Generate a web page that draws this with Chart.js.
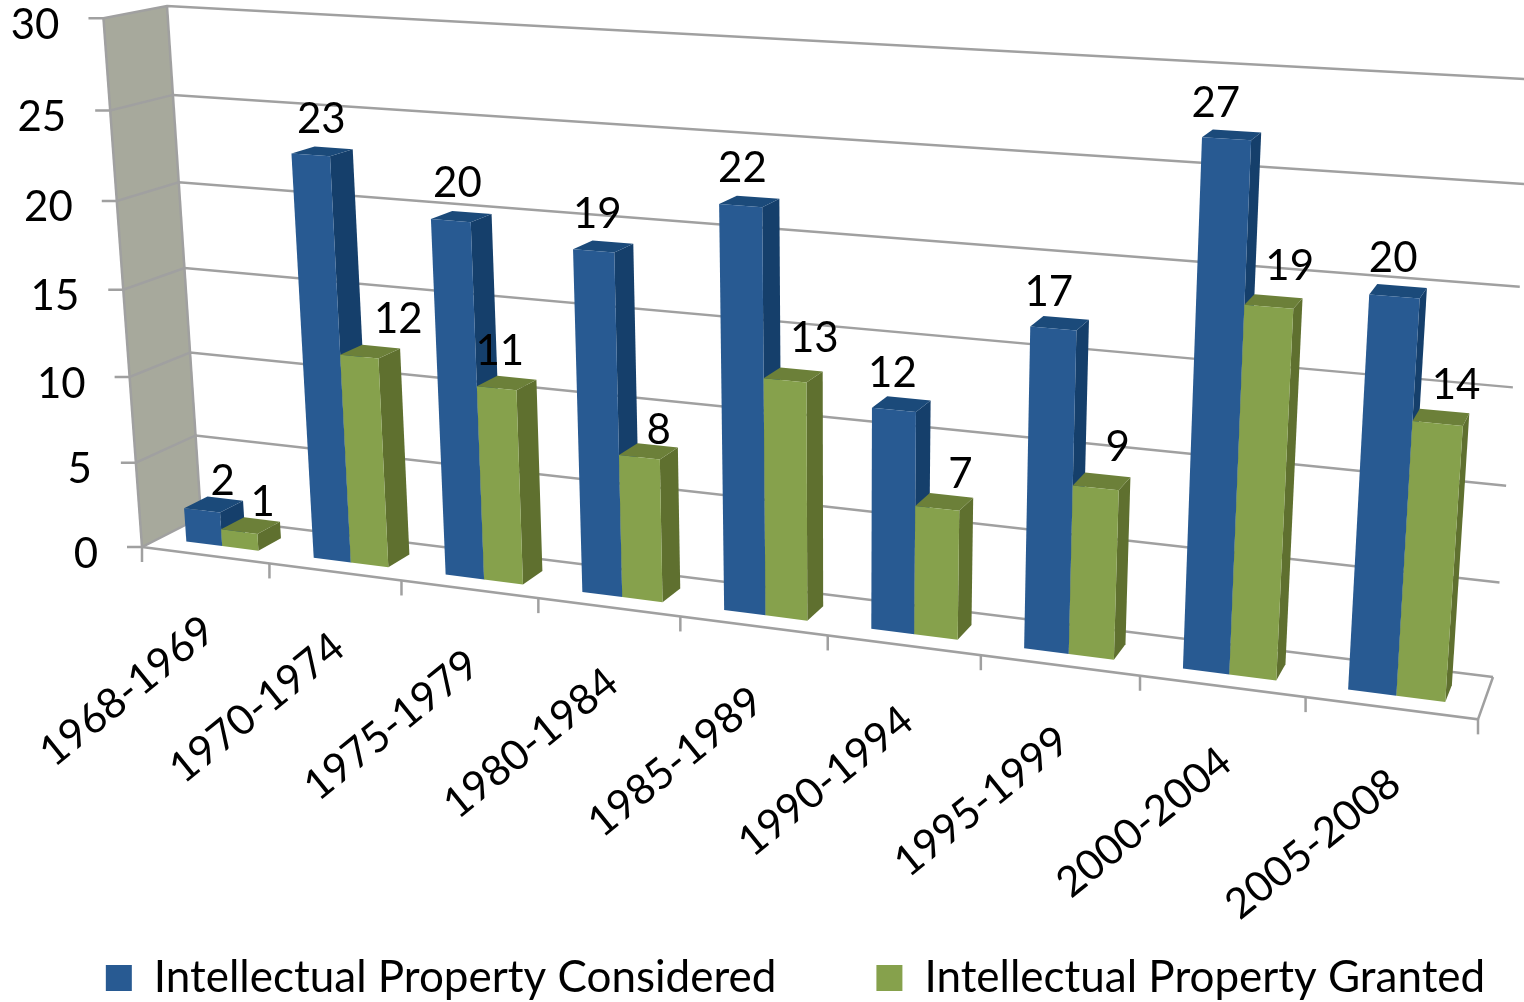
<!DOCTYPE html>
<html>
<head>
    <title>Intellectual Property</title>
    <script src="https://cdn.jsdelivr.net/npm/chart.js"></script>
    <style>
        body { margin: 0; background: #fff; }
        canvas { display: block; }
    </style>
</head>
<body>
    <canvas id="myChart" width="1524" height="1002"></canvas>
    <script>
        const periods = ['1968-1969', '1970-1974', '1975-1979', '1980-1984', '1985-1989', '1990-1994', '1995-1999', '2000-2004', '2005-2008'];
        const considered = [2, 23, 20, 19, 22, 12, 17, 27, 20];
        const granted = [1, 12, 11, 8, 13, 7, 9, 19, 14];

        const FONT = 'Lato, sans-serif';
        const FONT_SIZE = 42;

        // box corners on screen: back wall, then the two front floor corners
        const back = [[201, 517], [1493, 677], [1534, 79.5], [167, 6]];
        const frontL = [142, 547];
        const frontR = [1478, 718];
        const barFront = 0.71, barRear = 0.31;  // depth of the bars, 0 = back wall, 1 = front edge

        // shift of each value label from the top of its bar
        const nudgeConsidered = [[9, -23], [-1, -32], [-4, -33], [-6, -32], [-7, -33], [-9, -31], [-11, -31], [-16, -31], [-5, -33]];
        const nudgeGranted = [[12, -23], [28, -32], [-7, -31], [10, -21], [21, -36], [16, -27], [16, -34], [16, -35], [15, -32]];

        const faces = [
            { front: '#285a92', side: '#153f6b', top: '#1b4a7a' },
            { front: '#86a14c', side: '#5f702f', top: '#6c8039' }
        ];
        const lineColor = '#a0a0a0';

        // projective map of (u, v, depth) to the screen, from the corners above
        function makeProjection() {
            const [[x0, y0], [x1, y1], [x2, y2], [x3, y3]] = back;
            const dx1 = x1 - x2, dx2 = x3 - x2, sx = x0 - x1 + x2 - x3;
            const dy1 = y1 - y2, dy2 = y3 - y2, sy = y0 - y1 + y2 - y3;
            const det = dx1 * dy2 - dx2 * dy1;
            const g = (sx * dy2 - dx2 * sy) / det;
            const h = (dx1 * sy - sx * dy1) / det;
            const a = x1 - x0 + g * x1, b = x3 - x0 + h * x3;
            const d = y1 - y0 + g * y1, e = y3 - y0 + h * y3;
            const k = (frontR[0] * g - a) / (frontL[0] - frontR[0]);
            const c = frontL[0] * k - x0, f = frontL[1] * k - y0;
            const i = k - 1;
            return (u, v, t) => {
                const w = g * u + h * v + i * t + 1;
                return [(a * u + b * v + c * t + x0) / w, (d * u + e * v + f * t + y0) / w];
            };
        }
        const project = makeProjection();

        function poly(ctx, pts, fill) {
            ctx.beginPath();
            pts.forEach((p, n) => n ? ctx.lineTo(p[0], p[1]) : ctx.moveTo(p[0], p[1]));
            ctx.closePath();
            ctx.fillStyle = fill;
            ctx.fill();
        }

        function line(ctx, pts) {
            ctx.beginPath();
            pts.forEach((p, n) => n ? ctx.lineTo(p[0], p[1]) : ctx.moveTo(p[0], p[1]));
            ctx.stroke();
        }

        const box3d = {
            id: 'box3d',
            beforeDatasetsDraw(chart) {
                const ctx = chart.ctx, y = chart.scales.y;
                const vOf = val => (y.bottom - y.getPixelForValue(val)) / (y.bottom - y.top);
                ctx.save();
                poly(ctx, [project(0, 0, 1), project(0, 1, 1), project(0, 1, 0), project(0, 0, 0)], '#a7a99c');
                ctx.strokeStyle = lineColor;
                ctx.lineWidth = 2.5;
                ctx.fillStyle = '#000';
                ctx.font = FONT_SIZE + 'px ' + FONT;
                y.ticks.forEach(tick => {
                    const v = vOf(tick.value);
                    const p = project(0, v, 1);
                    line(ctx, [project(1, v, 0), project(0, v, 0), p, [p[0] - 15, p[1]]]);
                    ctx.textAlign = 'right';
                    ctx.textBaseline = 'middle';
                    ctx.fillStyle = '#000';
                    ctx.fillText(tick.label, p[0] - 44, p[1] + 7);
                });
                line(ctx, [project(0, 0, 0), project(0, 1, 0)]);
                line(ctx, [project(0, 0, 1), project(0, 1, 1)]);
                line(ctx, [project(0, 0, 1), project(1, 0, 1), project(1, 0, 0)]);

                // category ticks and slanted labels on the front edge
                const x = chart.scales.x;
                const uOf = px => (px - x.left) / (x.right - x.left);
                periods.forEach((label, n) => {
                    const half = (x.getPixelForValue(1) - x.getPixelForValue(0)) / 2;
                    const p = project(uOf(x.getPixelForValue(n) - half), 0, 1);
                    line(ctx, [p, [p[0], p[1] + 15]]);
                    const c = project(uOf(x.getPixelForValue(n)), 0, 1);
                    ctx.save();
                    ctx.translate(c[0] + 4, c[1] + 70);
                    ctx.rotate(-39 * Math.PI / 180);
                    ctx.textAlign = 'right';
                    ctx.textBaseline = 'middle';
                    ctx.fillText(label, 0, 0);
                    ctx.restore();
                });
                const end = project(1, 0, 1);
                line(ctx, [end, [end[0], end[1] + 15]]);
                ctx.restore();
            },
            beforeDatasetDraw() {
                return false;  // the bars are drawn in afterDatasetsDraw
            },
            afterDatasetsDraw(chart) {
                const ctx = chart.ctx, x = chart.scales.x, y = chart.scales.y;
                const uOf = px => (px - x.left) / (x.right - x.left);
                const vOf = py => (y.bottom - py) / (y.bottom - y.top);
                const labels = [];
                ctx.save();
                periods.forEach((_, n) => {
                    chart.data.datasets.forEach((ds, s) => {
                        const el = chart.getDatasetMeta(s).data[n];
                        const l = uOf(el.x - el.width / 2), r = uOf(el.x + el.width / 2);
                        const v0 = vOf(el.base), v1 = vOf(el.y);
                        const col = faces[s];
                        poly(ctx, [project(r, v0, barFront), project(r, v1, barFront), project(r, v1, barRear), project(r, v0, barRear)], col.side);
                        poly(ctx, [project(l, v1, barFront), project(r, v1, barFront), project(r, v1, barRear), project(l, v1, barRear)], col.top);
                        poly(ctx, [project(l, v0, barFront), project(r, v0, barFront), project(r, v1, barFront), project(l, v1, barFront)], col.front);
                        const c = project((l + r) / 2, v1, (barFront + barRear) / 2);
                        const nudge = (s ? nudgeGranted : nudgeConsidered)[n];
                        labels.push([ds.data[n], c[0] + nudge[0], c[1] + nudge[1]]);
                    });
                });
                ctx.fillStyle = '#000';
                ctx.font = FONT_SIZE + 'px ' + FONT;
                ctx.textAlign = 'center';
                ctx.textBaseline = 'middle';
                labels.forEach(([txt, lx, ly]) => ctx.fillText(txt, lx, ly));
                ctx.restore();
            }
        };

        new Chart(document.getElementById('myChart').getContext('2d'), {
            type: 'bar',
            plugins: [box3d],
            data: {
                labels: periods,
                datasets: [
                    { label: 'Intellectual Property Considered', data: considered, backgroundColor: faces[0].front, borderWidth: 0 },
                    { label: 'Intellectual Property Granted', data: granted, backgroundColor: faces[1].front, borderWidth: 0 }
                ]
            },
            options: {
                responsive: false,
                animation: false,
                events: [],
                layout: { padding: { left: 0, right: -67, bottom: -8 } },
                datasets: { bar: { categoryPercentage: 0.57, barPercentage: 1 } },
                scales: {
                    x: { display: false },
                    y: { display: false, min: 0, max: 30, ticks: { stepSize: 5 } }
                },
                plugins: {
                    tooltip: { enabled: false },
                    legend: {
                        position: 'bottom',
                        labels: {
                            boxWidth: 26,
                            boxHeight: 26,
                            padding: 100,
                            color: '#000',
                            font: { family: FONT, size: 44 }
                        }
                    }
                }
            }
        });
    </script>
</body>
</html>
